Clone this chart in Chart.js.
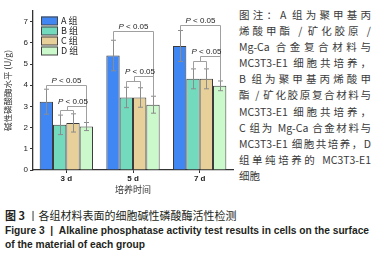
<!DOCTYPE html>
<html>
<head>
<meta charset="utf-8">
<script src="https://cdn.jsdelivr.net/npm/chart.js@4.4.1/dist/chart.umd.min.js"></script>
<style>
  body { margin: 0; background: #fff; width: 380px; height: 258px; overflow: hidden; position: relative; }
  #c { position: absolute; left: 0; top: 0; }
  .note { position: absolute; left: 239px; top: 7px; width: 132px; font-family: "Noto Sans CJK SC", sans-serif;
          font-size: 10.5px; line-height: 16.1px; color: #3a3a3a; }
  .note div { white-space: nowrap; text-align: justify; text-align-last: justify; }
  .note div.last { text-align-last: left; }
  .cap { position: absolute; left: 5px; top: 208px; font-size: 11px; line-height: 14.6px; color: #231f20; }
  .cap .zh { font-family: "Noto Sans CJK SC", sans-serif; white-space: nowrap; }
  .cap .en { font-family: "Liberation Sans", sans-serif; font-weight: bold; white-space: nowrap; transform-origin: 0 0; }
</style>
</head>
<body>
<canvas id="c" width="236" height="196"></canvas>
<div class="note">
  <div>图注：A 组为聚甲基丙</div>
  <div>烯酸甲酯 / 矿化胶原 /</div>
  <div>Mg-Ca 合金复合材料与</div>
  <div>MC3T3-E1 细胞共培养，</div>
  <div>B 组为聚甲基丙烯酸甲</div>
  <div>酯 / 矿化胶原复合材料与</div>
  <div>MC3T3-E1 细胞共培养，</div>
  <div>C 组为 Mg-Ca 合金材料与</div>
  <div>MC3T3-E1 细胞共培养，D</div>
  <div>组单纯培养的 MC3T3-E1</div>
  <div class="last">细胞</div>
</div>
<div class="cap">
  <div class="zh"><b>图 3</b> 丨各组材料表面的细胞碱性磷酸酶活性检测</div>
  <div class="en" id="en1">Figure 3&nbsp; | &nbsp;Alkaline phosphatase activity test results in cells on the surface</div>
  <div class="en" id="en2">of the material of each group</div>
</div>
<script>
// data
var days = ["3 d", "5 d", "7 d"];
var groups = ["A 组", "B 组", "C 组", "D 组"];
var groupA = [3.22, 5.40, 5.85];
var groupB = [2.13, 3.42, 4.30];
var groupC = [2.22, 3.42, 4.30];
var groupD = [2.05, 3.08, 3.97];
var errA = [0.59, 0.72, 0.73];
var errB = [0.46, 0.48, 0.47];
var errC = [0.43, 0.46, 0.47];
var errD = [0.19, 0.40, 0.23];
// significance brackets (value levels)
var outerLevel = [4.02, 6.54, 6.85];
var innerLevel = [3.00, 4.45, 5.39];
var tieLevel = [2.84, 4.21, 5.12];
var pText = " < 0.05";

var colors = ["#4187f3", "#74dabe", "#e7d09a", "#cbf9cb"];
var means = [groupA, groupB, groupC, groupD];
var errs = [errA, errB, errC, errD];

var extras = {
  id: "extras",
  afterDatasetsDraw: function (chart) {
    var ctx = chart.ctx, y = chart.scales.y, area = chart.chartArea;
    var metas = [0, 1, 2, 3].map(function (d) { return chart.getDatasetMeta(d).data; });
    ctx.save();
    // error bars
    ctx.strokeStyle = "#8c8c8c";
    ctx.lineWidth = 1;
    for (var d = 0; d < 4; d++) {
      for (var i = 0; i < days.length; i++) {
        var x = Math.round(metas[d][i].x) + 0.5;
        var top = y.getPixelForValue(means[d][i] + errs[d][i]);
        var bot = y.getPixelForValue(means[d][i] - errs[d][i]);
        ctx.beginPath();
        ctx.moveTo(x, top); ctx.lineTo(x, bot);
        ctx.moveTo(x - 2.5, top); ctx.lineTo(x + 2.5, top);
        ctx.moveTo(x - 2.5, bot); ctx.lineTo(x + 2.5, bot);
        ctx.stroke();
      }
    }
    // brackets
    function pLabel(cx, baseY) {
      ctx.fillStyle = "#222";
      ctx.textBaseline = "alphabetic";
      ctx.font = "italic 8px 'Liberation Sans'";
      var w1 = ctx.measureText("P").width;
      ctx.font = "8px 'Liberation Sans'";
      var w2 = ctx.measureText(pText).width;
      var sx = cx - (w1 + w2) / 2;
      ctx.font = "italic 8px 'Liberation Sans'";
      ctx.fillText("P", sx, baseY);
      ctx.font = "8px 'Liberation Sans'";
      ctx.fillText(pText, sx + w1, baseY);
    }
    ctx.strokeStyle = "#a0a0a0";
    for (var i = 0; i < days.length; i++) {
      var xs = metas.map(function (m) { return Math.round(m[i].x) + 0.5; });
      var tops = [0, 1, 2, 3].map(function (d) { return y.getPixelForValue(means[d][i] + errs[d][i]); });
      var oy = Math.round(y.getPixelForValue(outerLevel[i])) + 0.5;
      var iy = Math.round(y.getPixelForValue(innerLevel[i])) + 0.5;
      var ty = Math.round(y.getPixelForValue(tieLevel[i])) + 0.5;
      var mid = Math.round((xs[1] + xs[2]) / 2) + 0.5;
      ctx.beginPath();
      ctx.moveTo(xs[0], tops[0]); ctx.lineTo(xs[0], oy); ctx.lineTo(xs[3], oy); ctx.lineTo(xs[3], tops[3]);
      ctx.moveTo(xs[1], tops[1]); ctx.lineTo(xs[1], ty); ctx.lineTo(xs[2], ty); ctx.lineTo(xs[2], tops[2]);
      ctx.moveTo(mid, ty); ctx.lineTo(mid, iy); ctx.lineTo(xs[3], iy);
      ctx.stroke();
      pLabel((xs[0] + xs[3]) / 2, oy - 3);
      pLabel((mid + xs[3]) / 2 - 4, iy - 3);
    }
    // legend inside plot
    ctx.font = "9px 'Noto Sans CJK SC'";
    ctx.textBaseline = "middle";
    for (var d = 0; d < 4; d++) {
      var by = 16.5 + d * 10;
      ctx.fillStyle = colors[d];
      ctx.fillRect(area.left + 8, by, 17, 8.5);
      ctx.strokeStyle = "#444";
      ctx.strokeRect(area.left + 8.5, by + 0.5, 16, 8);
      ctx.fillStyle = "#222";
      ctx.fillText(groups[d], area.left + 28, by + 4.5);
    }
    ctx.restore();
  }
};

new Chart(document.getElementById("c"), {
  type: "bar",
  data: {
    labels: days,
    datasets: groups.map(function (g, d) {
      return {
        label: g,
        data: means[d],
        backgroundColor: colors[d],
        borderColor: "#3c3c3c",
        borderWidth: 1,
        borderSkipped: "bottom",
        categoryPercentage: 0.8,
        barPercentage: 1.0
      };
    })
  },
  options: {
    responsive: false,
    animation: false,
    devicePixelRatio: 1,
    layout: { padding: { top: 11, right: 3, left: 0, bottom: 0 } },
    plugins: { legend: { display: false }, tooltip: { enabled: false } },
    scales: {
      x: {
        afterFit: function (s) { s.height = 26; },
        border: { color: "#333", width: 1.3 },
        grid: { drawOnChartArea: false, offset: false, tickLength: 3, color: "#333" },
        ticks: { color: "#222", padding: 1, font: { size: 8, weight: "bold", family: "'Liberation Sans'" } },
        title: { display: true, text: "培养时间", color: "#333", padding: { top: 0, bottom: 1 },
                 font: { size: 9, family: "'Noto Sans CJK SC'" } }
      },
      y: {
        min: 0,
        max: 7.5,
        afterFit: function (s) { s.width = 33; },
        border: { color: "#333", width: 1.3 },
        grid: { drawOnChartArea: false, tickLength: 3,
                color: function (c) { return c.tick && c.tick.value % 1 ? "#777" : "#333"; } },
        ticks: {
          stepSize: 0.5, padding: 2, color: "#222",
          font: { size: 8, family: "'Liberation Sans'" },
          callback: function (v) { return v % 1 === 0 ? v : ""; }
        },
        title: { display: true, text: "碱性磷酸酶水平 (U/g)", color: "#333", padding: { top: 3, bottom: 0 },
                 font: { size: 8.5, family: "'Noto Sans CJK SC'" } }
      }
    }
  },
  plugins: [extras]
});

// fit the english caption lines to the original width
var en1 = document.getElementById("en1"), en2 = document.getElementById("en2");
var k = 364 / en1.getBoundingClientRect().width;
en1.style.transform = "scaleX(" + k + ")";
en2.style.transform = "scaleX(" + k + ")";
</script>
</body>
</html>
